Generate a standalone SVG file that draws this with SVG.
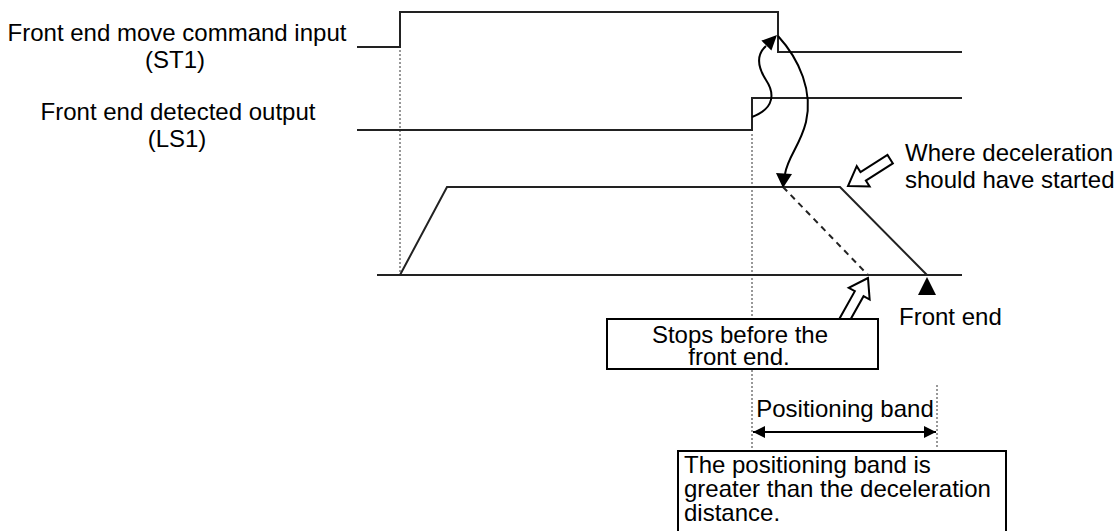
<svg xmlns="http://www.w3.org/2000/svg" width="1117" height="531" viewBox="0 0 1117 531">
<style>
text{font-family:"Liberation Sans",Arial,sans-serif;font-size:24px;fill:#000}
.sig{fill:none;stroke:#222;stroke-width:2}
.dot{fill:none;stroke:#777;stroke-width:1.5;stroke-dasharray:2,2}
.curve{fill:none;stroke:#000;stroke-width:2}
.hollow{fill:#fff;stroke:#000;stroke-width:2;stroke-linejoin:miter}
.box{fill:#fff;stroke:#000;stroke-width:2}
</style>
<defs>
<polygon id="harrow" points="0,0 -18,-12 -18,-5 -50,-5 -50,5 -18,5 -18,12"/>
<marker id="ah" viewBox="0 0 12 12" refX="12" refY="6" markerWidth="12" markerHeight="12" markerUnits="userSpaceOnUse" orient="auto-start-reverse">
<path d="M0,0 L12,6 L0,12 z" fill="#000"/>
</marker>
</defs>
<rect width="1117" height="531" fill="#fff"/>
<g id="labels-left">
<text x="177" y="41" text-anchor="middle">Front end move command input</text>
<text x="175" y="68" text-anchor="middle">(ST1)</text>
<text x="178" y="120" text-anchor="middle">Front end detected output</text>
<text x="177" y="147" text-anchor="middle">(LS1)</text>
</g>
<g id="guides">
<line class="dot" x1="400" y1="50" x2="400" y2="275"/>
<line class="dot" x1="752" y1="134" x2="752" y2="448"/>
<line class="dot" x1="937" y1="385" x2="937" y2="447"/>
</g>
<g id="st1">
<polyline class="sig" points="357,47 400,47 400,12 778,12 778,52 962,52"/>
</g>
<g id="ls1">
<polyline class="sig" points="357,130 752,130 752,98 962,98"/>
</g>
<g id="speed">
<line class="sig" x1="377" y1="275" x2="962" y2="275"/>
<polyline class="sig" points="400,275 447,187 840,187 927,275"/>
<line class="sig" x1="783" y1="187" x2="868" y2="275" stroke-dasharray="6,5"/>
<polygon points="927,277 918,295 936,295" fill="#000"/>
</g>
<g id="connectors">
<path class="curve" d="M752,117 C776,108 774,92 766,80 C757,66 756,55 766,46"/>
<polygon points="777,35 761.4,40.6 771.4,50.6" fill="#000"/>
<path class="curve" d="M778,36 C800,60 813,92 806,122 C800,146 788,156 785,174"/>
<polygon points="776,173 792,174 783,188" fill="#000"/>
<line class="curve" x1="753" y1="432" x2="936" y2="432" marker-start="url(#ah)" marker-end="url(#ah)"/>
<use href="#harrow" class="hollow" transform="translate(848,186) rotate(147.5)"/>
<use href="#harrow" class="hollow" transform="translate(868,278) rotate(-60.7)"/>
</g>
<g id="decel-label">
<text x="905" y="161">Where deceleration</text>
<text x="905" y="188">should have started</text>
</g>
<g id="front-end-label">
<text x="899" y="325">Front end</text>
</g>
<g id="stops-box">
<rect class="box" x="607" y="319" width="271" height="50"/>
<text x="740" y="343" text-anchor="middle">Stops before the</text>
<text x="739" y="365" text-anchor="middle">front end.</text>
</g>
<g id="band-label">
<text x="845" y="417" text-anchor="middle">Positioning band</text>
</g>
<g id="band-box">
<rect class="box" x="678" y="451" width="328" height="100"/>
<text x="684" y="473">The positioning band is</text>
<text x="684" y="497">greater than the deceleration</text>
<text x="684" y="521">distance.</text>
</g>
</svg>
